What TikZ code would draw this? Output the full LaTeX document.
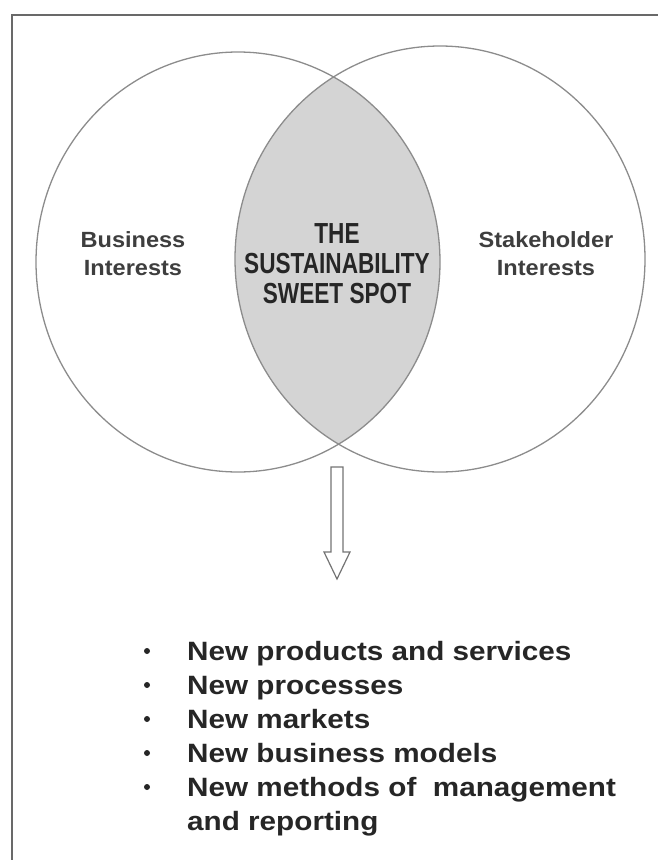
\documentclass[tikz,border=0pt]{standalone}
\usepackage{fontspec}
\setmainfont{Liberation Sans}
\newfontfamily\condfont[FakeStretch=0.78]{Liberation Sans}
\newfontfamily\widefont[FakeStretch=1.12]{Liberation Sans}
\newfontfamily\lblfont[FakeStretch=1.07]{Liberation Sans}
\definecolor{framecol}{RGB}{105,105,105}
\definecolor{circcol}{RGB}{140,140,140}
\definecolor{spotfill}{RGB}{212,212,212}
\definecolor{labelcol}{RGB}{62,62,62}
\definecolor{darktext}{RGB}{38,38,38}
\definecolor{arrowcol}{RGB}{115,115,115}
\begin{document}
\begin{tikzpicture}[x=1pt,y=-1pt,
  circ/.style={draw=circcol,line width=1.3pt},
  lbl/.style={font=\lblfont\bfseries\fontsize{22}{28}\selectfont,text=labelcol,inner sep=0pt,anchor=base},
  spot/.style={font=\condfont\bfseries\fontsize{29}{30}\selectfont,text=darktext,inner sep=0pt,anchor=base},
  item/.style={font=\widefont\bfseries\fontsize{26.5}{34}\selectfont,text=darktext,inner sep=0pt,anchor=base west},
  bul/.style={circle,fill=darktext,inner sep=0pt,minimum size=6pt}]
\useasboundingbox (0,0) rectangle (658,860);
% frame
\draw[framecol,line width=1.6pt] (658,15) -- (12,15) -- (12,860);
% intersection fill
\begin{scope}
  \clip (238,262) ellipse [x radius=202,y radius=210];
  \fill[spotfill] (440,259) ellipse [x radius=205,y radius=213];
\end{scope}
\draw[circ] (238,262) ellipse [x radius=202,y radius=210];
\draw[circ] (440,259) ellipse [x radius=205,y radius=213];
% labels
\node[lbl] (b1) at (133,247) {Business};
\node[lbl] (b2) at (133,275) {Interests};
\node[lbl] (s1) at (546,247) {Stakeholder};
\node[lbl] (s2) at (546,275) {Interests};
\node[spot] (t1) at (337,243) {THE};
\node[spot] (t2) at (337,273) {SUSTAINABILITY};
\node[spot] (t3) at (337,303) {SWEET SPOT};
% arrow
\draw[arrowcol,line width=1.2pt,line join=miter]
  (331,467) -- (343,467) -- (343,552) -- (350,552) -- (337,579) -- (324,552) -- (331,552) -- cycle;
% list
\node[item] (i1) at (187,660) {New products and services};
\node[item] (i2) at (187,694) {New processes};
\node[item] (i3) at (187,728) {New markets};
\node[item] (i4) at (187,762) {New business models};
\node[item] (i5) at (187,796) {New methods of\ \ management};
\node[item] (i6) at (187,830) {and reporting};
\node[bul] (p1) at (147,651) {};
\node[bul] (p2) at (147,685) {};
\node[bul] (p3) at (147,719) {};
\node[bul] (p4) at (147,753) {};
\node[bul] (p5) at (147,787) {};
\end{tikzpicture}
\end{document}
